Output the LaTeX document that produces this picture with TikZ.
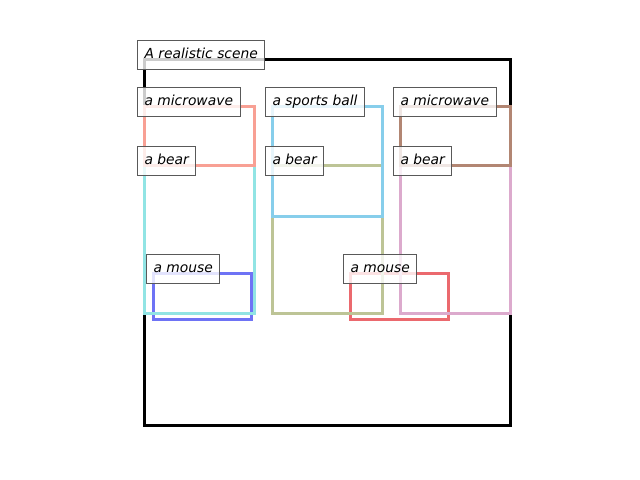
\documentclass[tikz,border=0pt]{standalone}
\usepackage{fontspec}
\setmainfont{DejaVu Sans}
\definecolor{csalmon}{RGB}{248,160,148}
\definecolor{ccyan}{RGB}{145,228,228}
\definecolor{csky}{RGB}{135,206,235}
\definecolor{colive}{RGB}{189,196,150}
\definecolor{cbrown}{RGB}{178,134,115}
\definecolor{cpink}{RGB}{220,170,205}
\definecolor{cblue}{RGB}{110,115,245}
\definecolor{cred}{RGB}{235,105,110}
\tikzset{
  bbox/.style={line width=0.03in},
  lbl/.style={anchor=base west, draw=black!65, line width=0.72pt, fill=white,
    fill opacity=0.8, text opacity=1, inner xsep=0.07in, inner ysep=0pt,
    text height=0.18in, text depth=0.10in, font=\itshape\fontsize{10}{12}\selectfont}
}
\begin{document}
\begin{tikzpicture}[x=0.01in,y=-0.01in]
\useasboundingbox (0,0) rectangle (640,480);
\begin{scope}[shift={(0.5,0.5)}]
% outer frame
\draw[bbox, black] (144,59) rectangle (510,425);
% boxes
\draw[bbox, cblue] (153,273) rectangle (251,319);
\draw[bbox, cred] (350,273) rectangle (448,319);
\draw[bbox, colive] (272,165) rectangle (382,313);
\draw[bbox, ccyan] (144,165) rectangle (254,313);
\draw[bbox, cpink] (400,165) rectangle (510,313);
\draw[bbox, csalmon] (144,106) rectangle (254,165);
\draw[bbox, csky] (272,106) rectangle (382,216);
\draw[bbox, cbrown] (400,106) rectangle (510,165);
\end{scope}
% labels
\node[lbl] (scene) at (137,59) {A realistic scene};
\node[lbl] (mw1) at (137,106) {a microwave};
\node[lbl] (ball) at (265,106) {a sports ball};
\node[lbl] (mw2) at (393,106) {a microwave};
\node[lbl] (bear1) at (137,165) {a bear};
\node[lbl] (bear2) at (265,165) {a bear};
\node[lbl] (bear3) at (393,165) {a bear};
\node[lbl] (mouse1) at (146,273) {a mouse};
\node[lbl] (mouse2) at (343,273) {a mouse};
\end{tikzpicture}
\end{document}
